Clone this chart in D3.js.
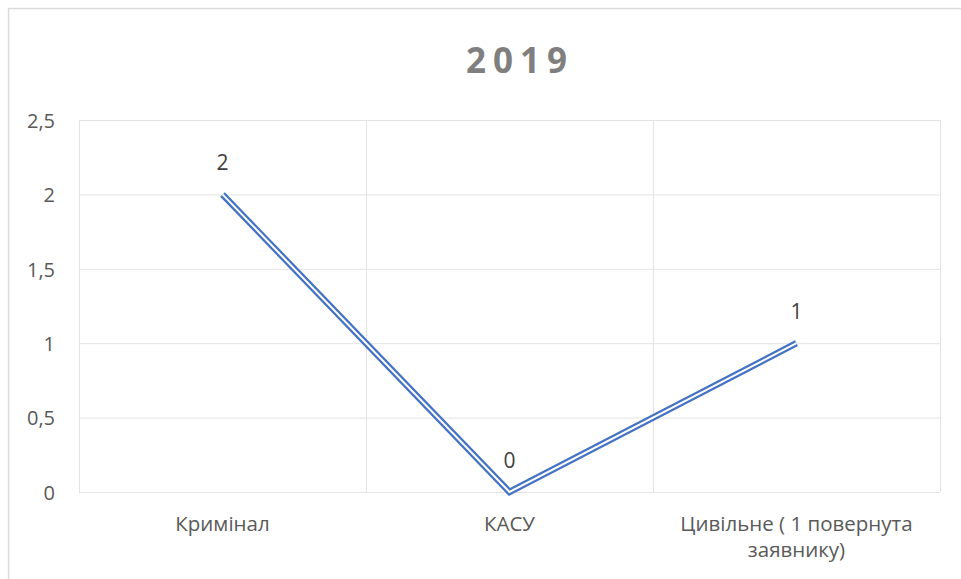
<!DOCTYPE html>
<html>
<head>
<meta charset="utf-8">
<script src="https://cdn.jsdelivr.net/npm/d3@7"></script>
<style>
    body { margin: 0; background: #fff; }
    svg text { font-family: "Open Sans", sans-serif; }
</style>
</head>
<body>
<div id="chart"></div>
<script>
const title = "2019";
const categories = ["Кримінал", "КАСУ", "Цивільне ( 1 повернута заявнику)"];
const categoryLines = [["Кримінал"], ["КАСУ"], ["Цивільне ( 1 повернута", "заявнику)"]];
const values = [2, 0, 1];
const yTicks = [0, 0.5, 1, 1.5, 2, 2.5];

const width = 961, height = 579;
const plot = { left: 79, top: 120, right: 940, bottom: 492 };

const svg = d3.select('#chart')
    .append('svg')
    .attr('width', width)
    .attr('height', height);

// outer chart border
svg.append('rect')
    .attr('x', 8.5).attr('y', 8.5)
    .attr('width', 980).attr('height', 600)
    .attr('fill', 'none')
    .attr('stroke', '#d9d9d9')
    .attr('stroke-width', 1.5);

const xScale = d3.scaleBand()
    .domain(categories)
    .range([plot.left, plot.right]);
const yScale = d3.scaleLinear()
    .domain([0, 2.5])
    .range([plot.bottom, plot.top]);

// gridlines
svg.append('g')
    .selectAll('line')
    .data(yTicks)
    .join('line')
    .attr('x1', plot.left).attr('x2', plot.right)
    .attr('y1', d => yScale(d) + 0.5).attr('y2', d => yScale(d) + 0.5)
    .attr('stroke', '#e3e3e3');

const xEdges = categories.map(c => xScale(c)).concat([plot.right]);
svg.append('g')
    .selectAll('line')
    .data(xEdges)
    .join('line')
    .attr('x1', d => d + 0.5).attr('x2', d => d + 0.5)
    .attr('y1', plot.top).attr('y2', plot.bottom)
    .attr('stroke', '#e3e3e3');

// y axis labels
const yAxis = svg.append('g')
    .attr('transform', `translate(${plot.left}, 0)`)
    .call(d3.axisLeft(yScale)
        .tickValues(yTicks)
        .tickSize(0)
        .tickPadding(24)
        .tickFormat(d => d3.format('')(d).replace('.', ',')));
yAxis.select('.domain').remove();
yAxis.selectAll('text')
    .attr('fill', '#595959')
    .attr('dy', '0.36em')
    .style('font-size', '20px');

// x axis labels
const xLabels = svg.append('g')
    .selectAll('text')
    .data(categories)
    .join('text')
    .attr('x', d => xScale(d) + xScale.bandwidth() / 2)
    .attr('y', 531)
    .attr('text-anchor', 'middle')
    .attr('fill', '#595959')
    .style('font-size', '20.5px');
xLabels.each(function (d, i) {
    d3.select(this).selectAll('tspan')
        .data(categoryLines[i])
        .join('tspan')
        .attr('x', xScale(d) + xScale.bandwidth() / 2)
        .attr('dy', (t, j) => j === 0 ? 0 : 26)
        .text(t => t);
});

// double line
const line = d3.line()
    .x((d, i) => xScale(categories[i]) + xScale.bandwidth() / 2)
    .y(d => yScale(d));

svg.append('path')
    .datum(values)
    .attr('d', line)
    .attr('fill', 'none')
    .attr('stroke', '#4472c4')
    .attr('stroke-width', 6.5)
    .attr('stroke-linejoin', 'miter');
svg.append('path')
    .datum(values)
    .attr('d', line)
    .attr('fill', 'none')
    .attr('stroke', '#fff')
    .attr('stroke-width', 2)
    .attr('stroke-linejoin', 'miter');

// data labels
svg.append('g')
    .selectAll('text')
    .data(values)
    .join('text')
    .attr('x', (d, i) => xScale(categories[i]) + xScale.bandwidth() / 2)
    .attr('y', d => yScale(d) - 24)
    .attr('text-anchor', 'middle')
    .attr('fill', '#404040')
    .style('font-size', '21px')
    .text(d => d);

// title
svg.append('text')
    .attr('x', 520)
    .attr('y', 73)
    .attr('text-anchor', 'middle')
    .attr('fill', '#7f7f7f')
    .style('font-size', '35px')
    .style('font-weight', 'bold')
    .style('letter-spacing', '7px')
    .text(title);
</script>
</body>
</html>
